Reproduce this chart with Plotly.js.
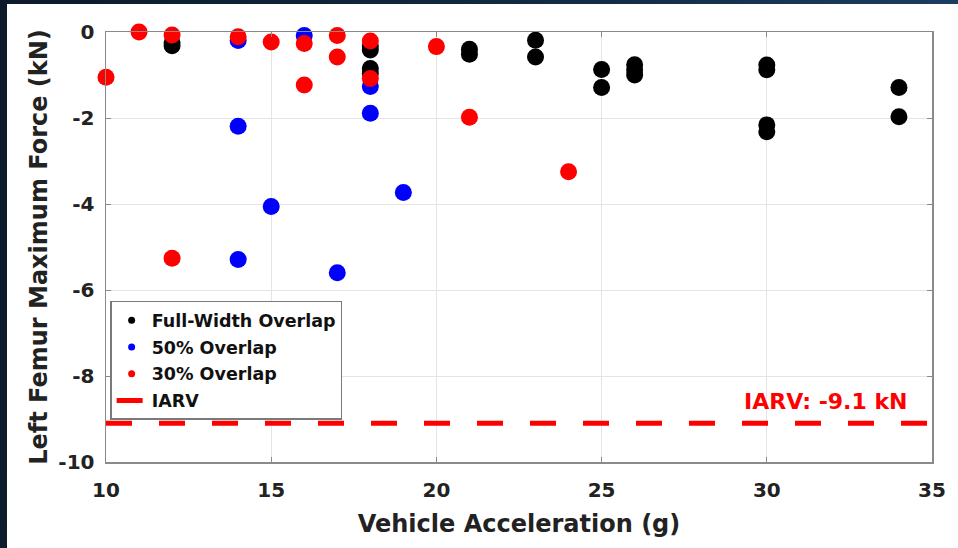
<!DOCTYPE html>
<html>
<head>
<meta charset="utf-8">
<script src="https://cdn.plot.ly/plotly-3.0.1.min.js"></script>
<style>
  html, body { margin: 0; padding: 0; width: 958px; height: 548px; overflow: hidden;
    background: linear-gradient(100deg, #0c1a29 0%, #132b44 55%, #1f4268 100%); }
  #chart { position: absolute; left: 7px; top: 4px; width: 951px; height: 544px; background: #fff; }
</style>
</head>
<body>
<div id="chart"></div>
<script>
// Full-Width Overlap (black)
const fullX = [12, 12, 18, 18, 18, 18, 21, 21, 23, 23, 25, 25, 26, 26, 26, 30, 30, 30, 30, 34, 34];
const fullY = [-0.25, -0.32, -0.32, -0.42, -0.85, -0.96, -0.4, -0.52, -0.19, -0.58, -0.87, -1.29, -0.76, -0.88, -1.0, -0.77, -0.88, -2.16, -2.32, -1.29, -1.97];
// 50% Overlap (blue)
const halfX = [14, 14, 14, 15, 16, 17, 18, 18, 19];
const halfY = [-0.2, -2.19, -5.29, -4.06, -0.08, -5.6, -1.27, -1.89, -3.73];
// 30% Overlap (red)
const thirtyX = [10, 11, 12, 12, 14, 15, 16, 16, 17, 17, 18, 18, 20, 21, 24];
const thirtyY = [-1.05, 0, -0.07, -5.26, -0.11, -0.23, -0.27, -1.23, -0.08, -0.58, -0.21, -1.08, -0.34, -1.98, -3.25];
// IARV threshold
const iarvX = [10, 35];
const iarvValue = -9.1;
const iarvLabel = 'IARV: -9.1 kN';
// Axes
const xTicks = [10, 15, 20, 25, 30, 35];
const yTicks = [-10, -8, -6, -4, -2, 0];
const names = ['Full-Width Overlap', '50% Overlap', '30% Overlap', 'IARV'];
const colors = ['#000000', '#0000ff', '#ff0000'];

const FONT = '"DejaVu Sans", Arial, sans-serif';
const MS = 17;

const traces = [
  { x: fullX, y: fullY, type: 'scatter', mode: 'markers', marker: { color: colors[0], size: MS }, cliponaxis: false, showlegend: false, hoverinfo: 'skip' },
  { x: halfX, y: halfY, type: 'scatter', mode: 'markers', marker: { color: colors[1], size: MS }, cliponaxis: false, showlegend: false, hoverinfo: 'skip' },
  { x: thirtyX, y: thirtyY, type: 'scatter', mode: 'markers', marker: { color: colors[2], size: MS }, cliponaxis: false, showlegend: false, hoverinfo: 'skip' },
  { x: iarvX, y: iarvX.map(() => iarvValue), type: 'scatter', mode: 'lines', name: names[3], legendgroup: 'd', legendrank: 4,
    line: { color: '#ff0000', width: 5, dash: '26px,27px' }, showlegend: true },
  // legend entries
  { x: [null], y: [null], type: 'scatter', mode: 'markers', name: names[0], legendgroup: 'a', legendrank: 1, marker: { color: colors[0], size: 7 } },
  { x: [null], y: [null], type: 'scatter', mode: 'markers', name: names[1], legendgroup: 'b', legendrank: 2, marker: { color: colors[1], size: 7 } },
  { x: [null], y: [null], type: 'scatter', mode: 'markers', name: names[2], legendgroup: 'c', legendrank: 3, marker: { color: colors[2], size: 7 } }
];

const axisCommon = {
  showline: true, linecolor: '#8a8a8a', linewidth: 1.5, mirror: 'ticks',
  ticks: 'inside', ticklen: 5, tickcolor: '#8a8a8a', tickwidth: 1,
  showgrid: true, gridcolor: '#e4e4e4', gridwidth: 1, zeroline: false,
  tickfont: { family: FONT, size: 20, color: '#222', weight: 'bold' }
};

const layout = {
  width: 951, height: 544,
  margin: { l: 99, r: 26, t: 28, b: 86 },
  paper_bgcolor: '#ffffff', plot_bgcolor: '#ffffff',
  font: { family: FONT, weight: 'bold', color: '#222' },
  xaxis: Object.assign({}, axisCommon, {
    range: [10, 35], tickvals: xTicks, ticktext: xTicks.map(String),
    ticklabelstandoff: 9,
    title: { text: 'Vehicle Acceleration (g)', font: { family: FONT, size: 24, color: '#222', weight: 'bold' }, standoff: 14 }
  }),
  yaxis: Object.assign({}, axisCommon, {
    range: [-10, 0], tickvals: yTicks, ticktext: yTicks.map(String),
    ticklabelstandoff: 6,
    title: { text: 'Left Femur Maximum Force (kN)', font: { family: FONT, size: 24, color: '#222', weight: 'bold' }, standoff: 4 }
  }),
  legend: {
    x: 0.005, y: 0.375, xanchor: 'left', yanchor: 'top',
    bgcolor: '#ffffff', bordercolor: '#7a7a7a', borderwidth: 1.5,
    font: { family: FONT, size: 17.5, color: '#111', weight: 'bold' },
    tracegroupgap: 1, traceorder: 'grouped', itemwidth: 30
  },
  annotations: [{
    x: 34.3, y: -8.6, xref: 'x', yref: 'y', xanchor: 'right', yanchor: 'middle',
    text: iarvLabel, showarrow: false,
    font: { family: FONT, size: 22, color: '#ff0000', weight: 'bold' }
  }],
  showlegend: true
};

Plotly.newPlot('chart', traces, layout, { displayModeBar: false, staticPlot: true });
</script>
</body>
</html>
